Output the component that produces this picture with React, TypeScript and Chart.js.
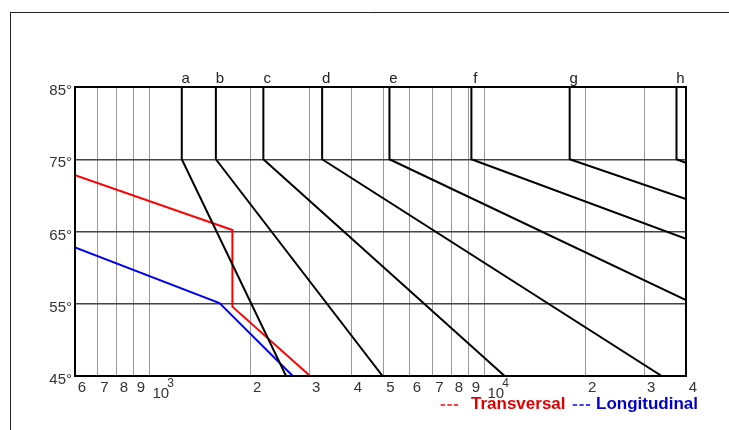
import React, { useEffect, useRef } from 'react';
import { Chart, registerables } from 'chart.js';

Chart.register(...registerables);

// Curve families a..h : vertical from 85° to 75°, then sloping down
const curveLabels = ['a', 'b', 'c', 'd', 'e', 'f', 'g', 'h'];
const curveTopFreq = [1250, 1580, 2190, 3280, 5210, 9150, 17980, 37470];
const curveTopAngle = [85, 85, 85, 85, 85, 85, 85, 85];
const curveKneeAngle = [75, 75, 75, 75, 75, 75, 75, 75];
const curveEndFreq = [2560, 4970, 11500, 33860, 40000, 40000, 40000, 40000];
const curveEndAngle = [45, 45, 45, 45, 55.5, 64.0, 69.5, 74.5];

// Transversal (red) and Longitudinal (blue)
const transFreq = [600, 1770, 1770, 3020];
const transAngle = [72.8, 65.2, 54.6, 45];
const longFreq = [600, 1620, 2680];
const longAngle = [62.8, 55.1, 45];

// Axes
const xMin = 600;
const xMax = 40000;
const yMin = 45;
const yMax = 85;
const yStep = 10;
const xTickValues = [600, 700, 800, 900, 1000, 2000, 3000, 4000, 5000, 6000, 7000, 8000, 9000, 10000, 20000, 30000, 40000];
const xTickLabels = ['6', '7', '8', '9', '10', '2', '3', '4', '5', '6', '7', '8', '9', '10', '2', '3', '4'];
const xTickSup = ['', '', '', '', '3', '', '', '', '', '', '', '', '', '4', '', '', ''];

const FONT = '"Liberation Sans", Arial, sans-serif';

export default function App() {
  const ref = useRef<HTMLCanvasElement | null>(null);

  useEffect(() => {
    if (!ref.current) return;

    const curveSets = curveLabels.map((lab, i) => ({
      label: lab,
      data: [
        { x: curveTopFreq[i], y: curveTopAngle[i] },
        { x: curveTopFreq[i], y: curveKneeAngle[i] },
        { x: curveEndFreq[i], y: curveEndAngle[i] },
      ],
      showLine: true,
      borderColor: '#000',
      borderWidth: 2,
      pointRadius: 0,
      fill: false,
    }));

    const frame = {
      id: 'frame',
      beforeDraw(chart: any) {
        const ctx = chart.ctx;
        ctx.save();
        ctx.fillStyle = '#fff';
        ctx.fillRect(0, 0, chart.width, chart.height);
        ctx.strokeStyle = '#222';
        ctx.lineWidth = 1;
        ctx.beginPath();
        ctx.moveTo(10, 12.5);
        ctx.lineTo(chart.width, 12.5);
        ctx.moveTo(10.5, 12);
        ctx.lineTo(10.5, chart.height);
        ctx.stroke();
        ctx.restore();
      },
      afterDraw(chart: any) {
        const ctx = chart.ctx;
        const a = chart.chartArea;
        const xs = chart.scales.x;
        ctx.save();
        // plot border
        ctx.strokeStyle = '#000';
        ctx.lineWidth = 2;
        ctx.strokeRect(a.left, a.top, a.right - a.left, a.bottom - a.top);
        // top letters
        ctx.fillStyle = '#222';
        ctx.font = '15px ' + FONT;
        ctx.textAlign = 'center';
        ctx.textBaseline = 'alphabetic';
        curveLabels.forEach((lab, i) => {
          const px = xs.getPixelForValue(curveTopFreq[i]);
          ctx.fillText(lab, px + 4, a.top - 4.5);
        });
        // x tick labels
        ctx.fillStyle = '#333';
        ctx.textBaseline = 'middle';
        xTickValues.forEach((v, i) => {
          const px = xs.getPixelForValue(v);
          if (xTickSup[i]) {
            ctx.font = '15px ' + FONT;
            ctx.textAlign = 'center';
            ctx.fillText(xTickLabels[i], px + 11.5, a.bottom + 18);
            ctx.font = '12px ' + FONT;
            ctx.textAlign = 'left';
            ctx.fillText(xTickSup[i], px + 18, a.bottom + 8);
          } else {
            ctx.font = '15px ' + FONT;
            ctx.textAlign = 'center';
            ctx.fillText(xTickLabels[i], px + 7, a.bottom + 11.5);
          }
        });
        ctx.restore();
      },
    };

    const chart = new Chart(ref.current, {
      type: 'scatter',
      data: {
        datasets: [
          ...curveSets,
          {
            label: 'Transversal',
            data: transFreq.map((x, i) => ({ x, y: transAngle[i] })),
            showLine: true,
            borderColor: '#ff0000',
            borderWidth: 2,
            pointRadius: 0,
          },
          {
            label: 'Longitudinal',
            data: longFreq.map((x, i) => ({ x, y: longAngle[i] })),
            showLine: true,
            borderColor: '#0000ee',
            borderWidth: 2,
            pointRadius: 0,
          },
        ] as any,
      },
      options: {
        responsive: false,
        animation: false,
        devicePixelRatio: 1,
        layout: { padding: { top: 87, right: 43, bottom: 0, left: 0 } },
        plugins: {
          legend: { display: false },
          tooltip: { enabled: false },
        },
        scales: {
          x: {
            type: 'logarithmic',
            min: xMin,
            max: xMax,
            afterBuildTicks: (axis: any) => {
              axis.ticks = xTickValues.map((v) => ({ value: v }));
            },
            afterFit: (scale: any) => {
              scale.height = 54;
            },
            ticks: { display: true, callback: () => '' },
            grid: { color: '#999', lineWidth: 1, drawTicks: false },
            border: { display: false },
          },
          y: {
            type: 'linear',
            min: yMin,
            max: yMax,
            afterFit: (scale: any) => {
              scale.width = 75;
            },
            ticks: {
              stepSize: yStep,
              color: '#333',
              font: { family: FONT, size: 15 },
              padding: 3,
              labelOffset: 4,
              callback: (v: any) => v + '°',
            },
            grid: { color: '#444', lineWidth: 1.5, drawTicks: false },
            border: { display: false },
          },
        },
      } as any,
      plugins: [frame],
    });

    return () => chart.destroy();
  }, []);

  const legendBase: React.CSSProperties = {
    position: 'absolute',
    top: 395,
    fontFamily: FONT,
    fontWeight: 'bold',
    fontSize: 17,
    lineHeight: '17px',
    whiteSpace: 'nowrap',
  };

  return (
    <div style={{ position: 'fixed', left: 0, top: 0, width: 729, height: 430, background: '#fff', overflow: 'hidden' }}>
      <canvas ref={ref} width={729} height={430} style={{ display: 'block', width: 729, height: 430 }} />
      <span style={{ ...legendBase, left: 440, color: '#ff4040', letterSpacing: 1 }}>---</span>
      <span style={{ ...legendBase, left: 471, color: '#e00000' }}>Transversal</span>
      <span style={{ ...legendBase, left: 572, color: '#4040ff', letterSpacing: 1 }}>---</span>
      <span style={{ ...legendBase, left: 596, color: '#0000cc' }}>Longitudinal</span>
    </div>
  );
}
